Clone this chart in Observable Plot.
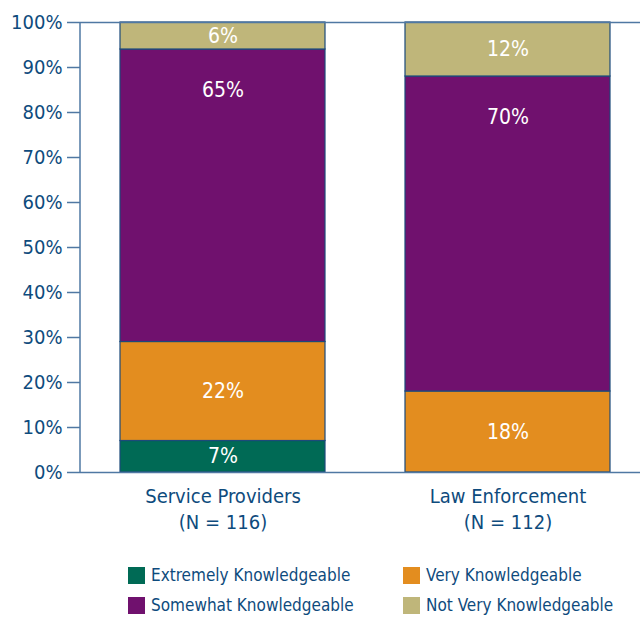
<!DOCTYPE html>
<html>
<head>
<meta charset="utf-8">
<script src="https://cdn.jsdelivr.net/npm/d3@7"></script>
<script src="https://cdn.jsdelivr.net/npm/@observablehq/plot@0.6"></script>
<style>
  html, body { margin: 0; padding: 0; background: #fff; }
  body { width: 640px; height: 617px; overflow: hidden; font-family: "DejaVu Sans Condensed", "Roboto", sans-serif; }
  #chart svg { display: block; }
  .legend { position: relative; height: 72px; color: #0e4b7d; font-size: 17px; }
  .item { position: absolute; display: flex; align-items: center; white-space: nowrap; }
  .sw { width: 17px; height: 17px; margin-right: 6px; }
</style>
</head>
<body>
<div id="chart"></div>
<div class="legend" id="legend"></div>
<script>
const groups = ["Service Providers", "Law Enforcement"];
const groupN = [116, 112];
const levels = ["Extremely Knowledgeable", "Very Knowledgeable", "Somewhat Knowledgeable", "Not Very Knowledgeable"];
const colors = ["#006a55", "#e38d1f", "#70116e", "#bfb67a"];
const serviceProviders = [7, 22, 65, 6];
const lawEnforcement = [0, 18, 70, 12];
const yTicks = [0, 10, 20, 30, 40, 50, 60, 70, 80, 90, 100];

const seriesByGroup = [serviceProviders, lawEnforcement];
const rows = [];
groups.forEach((g, gi) => {
  let acc = 0;
  levels.forEach((lv, li) => {
    const v = seriesByGroup[gi][li];
    const y1 = acc, y2 = acc + v;
    acc = y2;
    if (v > 0) {
      const labelY = li === 2 ? y2 - 9 : (y1 + y2) / 2;
      rows.push({group: g, level: lv, value: v, y1, y2, labelY});
    }
  });
});

const labelFor = new Map(groups.map((g, i) => [g, `${g}\n(N = ${groupN[i]})`]));
const ink = "#0e4b7d";
const font = '"DejaVu Sans Condensed", Roboto, sans-serif';

const chart = Plot.plot({
  width: 640,
  height: 545,
  marginTop: 22,
  marginBottom: 73,
  marginLeft: 80,
  marginRight: 0,
  style: {fontFamily: font, color: ink, background: "#fff"},
  x: {domain: groups, range: [40, 690], padding: 0.28, label: null},
  y: {domain: [0, 100], label: null},
  color: {domain: levels, range: colors},
  marks: [
    Plot.rectY(rows, {x: "group", y1: "y1", y2: "y2", fill: "level", stroke: "#1c4a7a", strokeWidth: 1.2}),
    Plot.ruleY([0, 100], {stroke: "#4f78a3", strokeWidth: 1.5}),
    Plot.axisY({ticks: yTicks, tickFormat: d => d + "%", tickSize: 13, tickPadding: 5, fontSize: 20, stroke: "#4f78a3", strokeWidth: 1.5, fill: ink}),
    Plot.axisX({tickSize: 0, tickPadding: 12, fontSize: 20, fill: ink, lineHeight: 1.3, tickFormat: d => labelFor.get(d)}),
    Plot.text(rows, {x: "group", y: "labelY", text: d => d.value + "%", fill: "white", fontSize: 21})
  ]
});
document.getElementById("chart").appendChild(chart);

// vertical y-axis line
const svg = d3.select(chart);
svg.append("line").attr("x1", 80).attr("x2", 80).attr("y1", 22).attr("y2", 472)
  .attr("stroke", "#4f78a3").attr("stroke-width", 1.5);

const legend = document.getElementById("legend");
const pos = [[128, 31], [403, 31], [128, 61], [403, 61]];
[0, 1, 2, 3].forEach((li, k) => {
  const it = document.createElement("div");
  it.className = "item";
  it.style.left = pos[k][0] + "px";
  it.style.top = (pos[k][1] - 11) + "px";
  it.innerHTML = `<span class="sw" style="background:${colors[li]}"></span><span>${levels[li]}</span>`;
  legend.appendChild(it);
});
</script>
</body>
</html>
